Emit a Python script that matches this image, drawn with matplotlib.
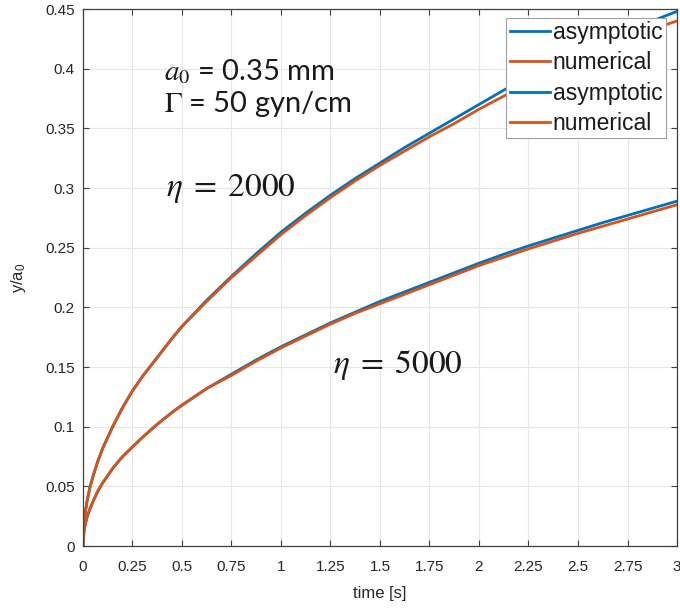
import matplotlib
matplotlib.use("Agg")
import matplotlib.pyplot as plt

plt.rcParams['font.family'] = ['Liberation Sans', 'DejaVu Sans']
plt.rcParams['mathtext.fontset'] = 'stix'

# time samples [s]
t = [0, 0.005, 0.01, 0.02, 0.035, 0.05, 0.075, 0.1, 0.125, 0.15, 0.2, 0.25, 0.3,
     0.375, 0.45, 0.5, 0.625, 0.75, 0.875, 1.0, 1.125, 1.25, 1.375, 1.5, 1.625,
     1.75, 1.875, 2.0, 2.125, 2.25, 2.375, 2.5, 2.625, 2.75, 2.875, 3.0]

# eta = 2000
asym_2000 = [0, 0.019, 0.026, 0.037, 0.049, 0.058, 0.071, 0.082, 0.091, 0.100, 0.116,
             0.130, 0.142, 0.158, 0.174, 0.184, 0.206, 0.226, 0.245, 0.263, 0.279,
             0.294, 0.308, 0.321, 0.334, 0.346, 0.358, 0.370, 0.382, 0.393, 0.404,
             0.414, 0.423, 0.432, 0.440, 0.448]
num_2000 = [0, 0.019, 0.026, 0.037, 0.049, 0.058, 0.071, 0.082, 0.091, 0.100, 0.116,
            0.130, 0.142, 0.158, 0.174, 0.184, 0.205, 0.225, 0.243, 0.261, 0.277,
            0.292, 0.306, 0.319, 0.331, 0.343, 0.354, 0.366, 0.377, 0.388, 0.398,
            0.408, 0.417, 0.425, 0.433, 0.440]

# eta = 5000
asym_5000 = [0, 0.012, 0.017, 0.024, 0.031, 0.037, 0.046, 0.053, 0.059, 0.065, 0.075,
             0.083, 0.091, 0.102, 0.112, 0.118, 0.132, 0.144, 0.156, 0.167, 0.177,
             0.187, 0.196, 0.205, 0.213, 0.221, 0.229, 0.237, 0.2445, 0.2515, 0.258,
             0.2645, 0.271, 0.277, 0.283, 0.289]
num_5000 = [0, 0.012, 0.017, 0.024, 0.031, 0.037, 0.046, 0.053, 0.059, 0.065, 0.075,
            0.083, 0.091, 0.102, 0.112, 0.118, 0.132, 0.143, 0.155, 0.166, 0.176,
            0.186, 0.195, 0.203, 0.211, 0.219, 0.227, 0.235, 0.242, 0.249, 0.2555,
            0.262, 0.268, 0.274, 0.280, 0.286]

x_ticks = [0, 0.25, 0.5, 0.75, 1, 1.25, 1.5, 1.75, 2, 2.25, 2.5, 2.75, 3]
x_tick_labels = ['0', '0.25', '0.5', '0.75', '1', '1.25', '1.5', '1.75', '2',
                 '2.25', '2.5', '2.75', '3']
y_ticks = [0, 0.05, 0.1, 0.15, 0.2, 0.25, 0.3, 0.35, 0.4, 0.45]
y_tick_labels = ['0', '0.05', '0.1', '0.15', '0.2', '0.25', '0.3', '0.35', '0.4', '0.45']

blue = '#0072BD'
orange = '#D95319'
axis_col = '#404040'
text_col = '#262626'

fig = plt.figure(figsize=(6.8, 6.09), dpi=100)
ax = fig.add_axes([0.122, 0.1034, 0.8736, 0.8818])

lw = 2.0
ax.plot(t, asym_2000, color=blue, lw=lw, label='asymptotic')
ax.plot(t, num_2000, color=orange, lw=lw, label='numerical')
ax.plot(t, asym_5000, color=blue, lw=lw, label='asymptotic')
ax.plot(t, num_5000, color=orange, lw=lw, label='numerical')

ax.set_xlim(0, 3)
ax.set_ylim(0, 0.45)
ax.set_xticks(x_ticks)
ax.set_xticklabels(x_tick_labels)
ax.set_yticks(y_ticks)
ax.set_yticklabels(y_tick_labels)
ax.tick_params(direction='in', length=4, width=0.8, colors=axis_col,
               labelcolor=text_col, labelsize=11, top=True, right=True)
ax.tick_params(axis='x', pad=10)
ax.tick_params(axis='y', pad=6)
for s in ax.spines.values():
    s.set_color(axis_col)
    s.set_linewidth(0.9)
ax.grid(True, color='#e6e6e6', lw=0.8)
ax.set_axisbelow(True)

ax.set_xlabel('time [s]', fontsize=12, color=text_col, labelpad=9)
ax.set_ylabel('y/a$_\\mathregular{0}$', fontsize=12, color=text_col, labelpad=12)

leg = ax.legend(loc='upper right', bbox_to_anchor=(0.981, 0.984), fontsize=16.5,
                handlelength=1.75, handletextpad=0.12, labelspacing=0.32,
                borderpad=0.15, borderaxespad=0.0, frameon=True, fancybox=False,
                edgecolor='#a0a0a0', framealpha=1.0)
leg.get_frame().set_linewidth(0.8)
for txt in leg.get_texts():
    txt.set_color('#1a1a1a')

note_font = ['Lato', 'DejaVu Sans']
ax.text(0.41, 0.398, r'$a_0$' + ' = 0.35 mm', fontsize=21, family=note_font,
        va='center', ha='left', color='#1a1a1a')
ax.text(0.41, 0.370, r'$\Gamma$' + ' = 50 gyn/cm', fontsize=21, family=note_font,
        va='center', ha='left', color='#1a1a1a')
ax.text(0.42, 0.300, r'$\eta\;=\;2000$', fontsize=24, va='center', ha='left', color='#1a1a1a')
ax.text(1.265, 0.152, r'$\eta\;=\;5000$', fontsize=24, va='center', ha='left', color='#1a1a1a')

fig.savefig('out.png', dpi=100)
